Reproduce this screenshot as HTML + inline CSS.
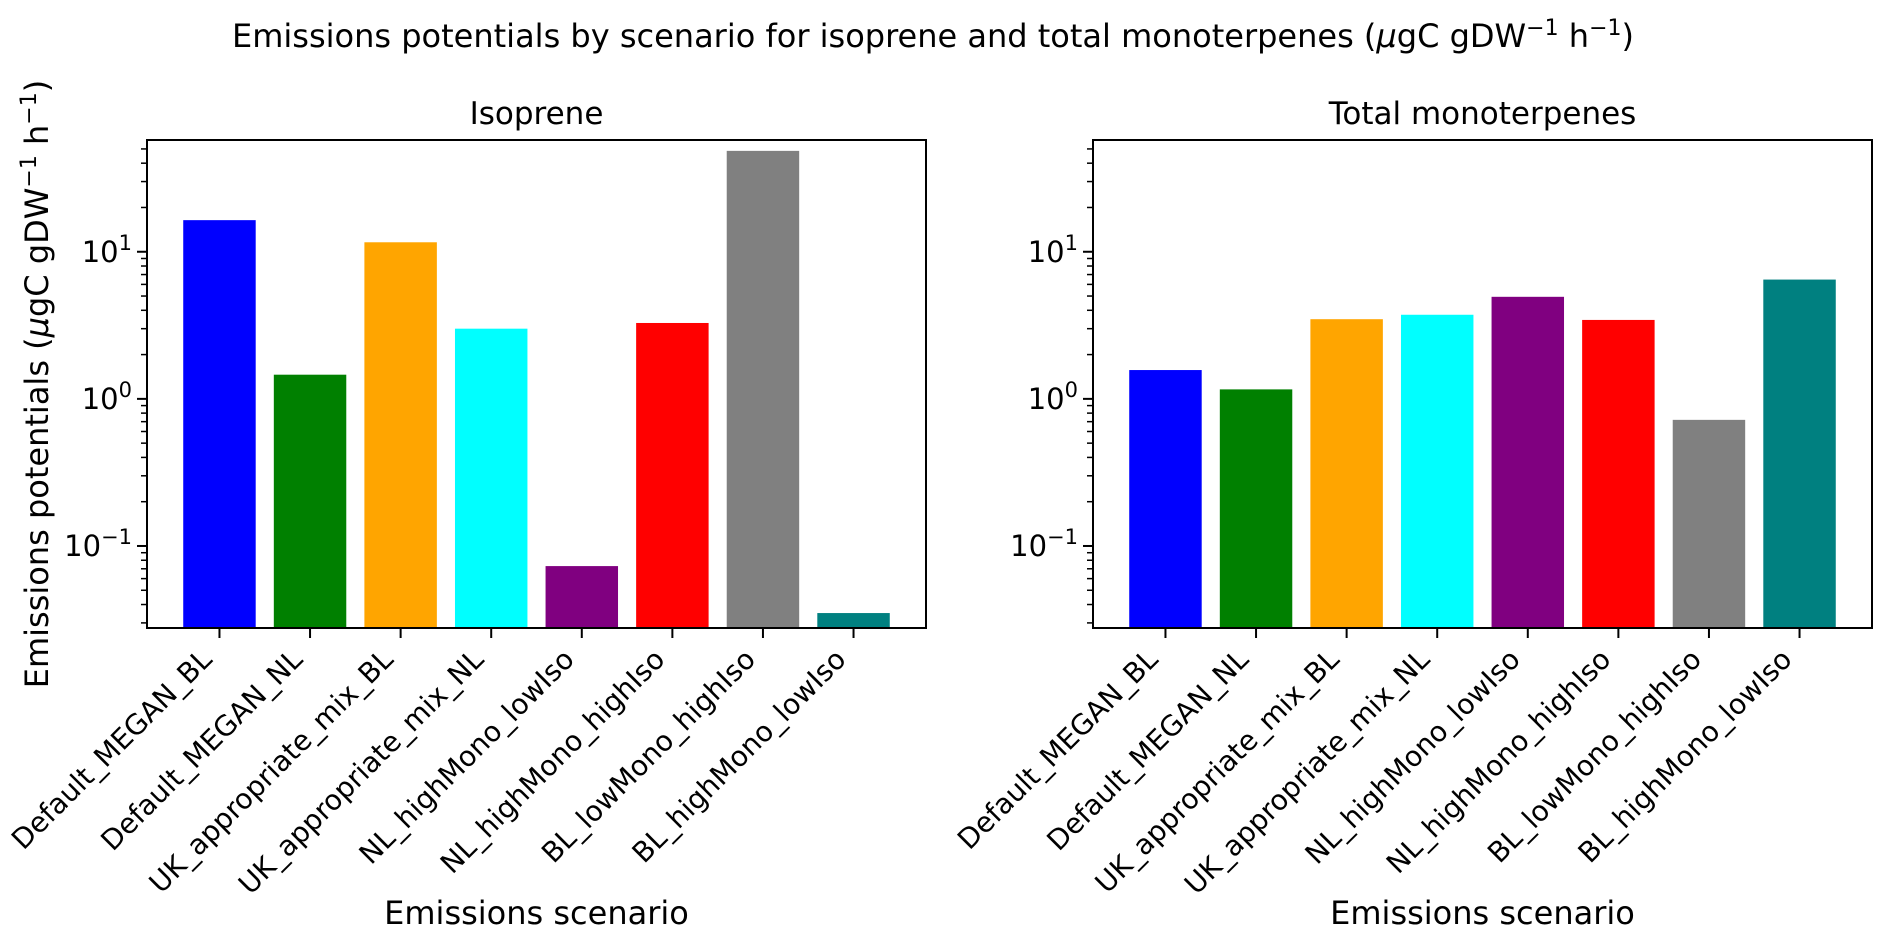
<!DOCTYPE html>
<html><head><meta charset="utf-8"><style>
html,body{margin:0;padding:0;background:#fff;}
svg{display:block;font-family:"DejaVu Sans","Liberation Sans",sans-serif;}
</style></head><body>
<svg id="fig" width="1892" height="944" viewBox="0 0 1892 944">
<text x="933" y="47" font-size="32" text-anchor="middle">Emissions potentials by scenario for isoprene and total monoterpenes (<tspan font-style="italic">μ</tspan>gC gDW<tspan dy="-12" font-size="22">−1</tspan><tspan dy="12"> h</tspan><tspan dy="-12" font-size="22">−1</tspan><tspan dy="12">)</tspan></text>
<text transform="translate(48,384) rotate(-90)" font-size="32" text-anchor="middle">Emissions potentials (<tspan font-style="italic">μ</tspan>gC gDW<tspan dy="-12" font-size="22">−1</tspan><tspan dy="12"> h</tspan><tspan dy="-12" font-size="22">−1</tspan><tspan dy="12">)</tspan></text>
</svg>
<script>
const categories = ["Default_MEGAN_BL","Default_MEGAN_NL","UK_appropriate_mix_BL","UK_appropriate_mix_NL","NL_highMono_lowIso","NL_highMono_highIso","BL_lowMono_highIso","BL_highMono_lowIso"];
const barColors = ["#0000ff","#008000","#ffa500","#00ffff","#800080","#ff0000","#808080","#008080"];
const isopreneValues = [16.4, 1.46, 11.6, 3.0, 0.073, 3.28, 48.5, 0.035];
const monoterpeneValues = [1.57, 1.16, 3.48, 3.73, 4.94, 3.44, 0.72, 6.47];
const yTickExponents = [-1, 0, 1];
const yDomain = [0.0277, 57.5];
const panelTitles = ["Isoprene", "Total monoterpenes"];

const NS = "http://www.w3.org/2000/svg";
const svg = document.getElementById("fig");
function mk(tag, attrs, parent) {
  const e = document.createElementNS(NS, tag);
  for (const k in attrs) e.setAttribute(k, attrs[k]);
  (parent || svg).appendChild(e);
  return e;
}
const TOP = 140, BOT = 628;
function makeY() {
  const l0 = Math.log10(yDomain[0]), l1 = Math.log10(yDomain[1]);
  return v => BOT - (Math.log10(v) - l0) / (l1 - l0) * (BOT - TOP);
}
const y = makeY();

function panel(x0, x1, values, title, key) {
  const g = mk("g", {});
  
  
  const n = categories.length;
  const step = (x1 - x0) / (n - 1 + 1.6);
  const xc = i => x0 + step * (0.8 + i);
  const bw = step * 0.8;
  values.forEach((v, i) => {
    const r = mk("rect", {x: xc(i) - bw / 2, y: y(v), width: bw, height: BOT - y(v), fill: barColors[i]}, g);
    
    
  });
  const lo = Math.floor(Math.log10(yDomain[0])), hi = Math.ceil(Math.log10(yDomain[1]));
  for (let e = lo; e <= hi; e++) {
    for (let m = 1; m <= 9; m++) {
      const v = m * Math.pow(10, e);
      if (v < yDomain[0] || v > yDomain[1]) continue;
      const yy = y(v);
      const len = m === 1 ? 10 : 6;
      mk("line", {x1: x0 - len, x2: x0, y1: yy, y2: yy, stroke: "#000", "stroke-width": m === 1 ? 2 : 1.5}, g);
    }
  }
  yTickExponents.forEach(e => {
    const yy = y(Math.pow(10, e));
    const t = mk("text", {x: x0 - 15, y: yy + 10, "font-size": 29, "text-anchor": "end"}, g);
    
    
    t.innerHTML = '10<tspan dy="-12" font-size="21">' + (e < 0 ? '−' + (-e) : e) + '</tspan>';
  });
  categories.forEach((c, i) => {
    const xx = xc(i);
    mk("line", {x1: xx, x2: xx, y1: BOT, y2: BOT + 10, stroke: "#000", "stroke-width": 2}, g);
    const t = mk("text", {transform: "translate(" + (xx - 6) + "," + (BOT + 33) + ") rotate(-45)", "font-size": 28, "text-anchor": "end"}, g);
    
    
    t.textContent = c;
  });
  const fr = mk("rect", {x: x0, y: TOP, width: x1 - x0, height: BOT - TOP, fill: "none", stroke: "#000", "stroke-width": 2}, g);
  
  
  const tt = mk("text", {x: (x0 + x1) / 2, y: 124, "font-size": 31, "text-anchor": "middle"}, g);
  
  
  tt.textContent = title;
  const xl = mk("text", {x: (x0 + x1) / 2, y: 924, "font-size": 32, "text-anchor": "middle"}, g);
  
  
  xl.textContent = "Emissions scenario";
}
panel(147, 926, isopreneValues, panelTitles[0], "isoprene");
panel(1093, 1872, monoterpeneValues, panelTitles[1], "monoterpenes");
</script>
</body></html>
